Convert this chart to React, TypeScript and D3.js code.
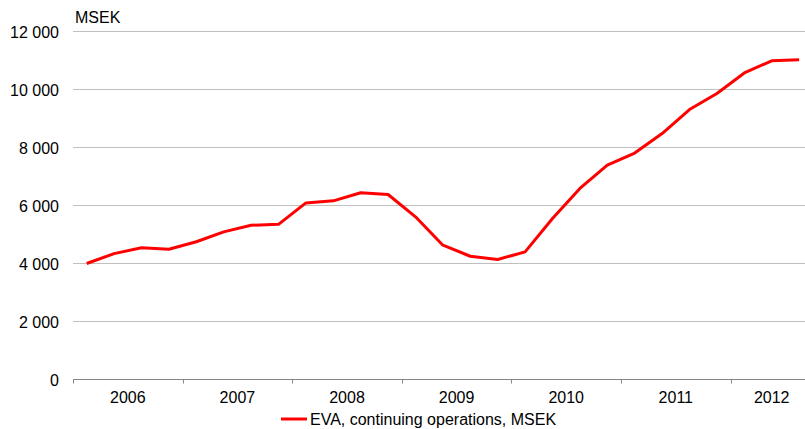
import React, { useEffect, useRef } from "react";
import * as d3 from "d3";

// Quarterly EVA, continuing operations (MSEK)
const years = ["2006", "2007", "2008", "2009", "2010", "2011", "2012"];
const quartersPerYear = [4, 4, 4, 4, 4, 4, 3];
const evaValues = [
  4000, 4340, 4540, 4490,
  4750, 5090, 5320, 5350,
  6090, 6160, 6440, 6380,
  5610, 4630, 4250, 4140,
  4400, 5550, 6590, 7390,
  7810, 8480, 9310, 9860,
  10570, 10990, 11030,
];
const yTicks = [0, 2000, 4000, 6000, 8000, 10000, 12000];
const seriesLabel = "EVA, continuing operations, MSEK";
const unitLabel = "MSEK";

const App = () => {
  const svgRef = useRef<SVGSVGElement>(null);

  useEffect(() => {
    const width = 805;
    const height = 429;
    const font = "'Liberation Sans', Arial, sans-serif";
    const fontSize = "16px";

    const svg = d3.select(svgRef.current);
    svg.selectAll("*").remove();
    svg.attr("width", width).attr("height", height);

    // quarter categories, e.g. "2006 Q1"
    const quarters: string[] = [];
    years.forEach((y, i) => {
      for (let q = 1; q <= quartersPerYear[i]; q++) quarters.push(`${y} Q${q}`);
    });

    const left = 73;
    const step = 27.4;
    const xScale = d3
      .scaleBand()
      .domain(quarters)
      .range([left, left + step * quarters.length])
      .padding(0);

    const yScale = d3.scaleLinear().domain([0, 12000]).range([379.5, 31.5]);

    // Grid lines
    svg
      .append("g")
      .selectAll("line")
      .data(yTicks.filter((d) => d > 0))
      .enter()
      .append("line")
      .attr("x1", left)
      .attr("x2", width)
      .attr("y1", (d) => yScale(d))
      .attr("y2", (d) => yScale(d))
      .style("stroke", "#bfbfbf")
      .style("stroke-width", 1);

    // Y tick labels
    const fmt = (d: number) => d3.format(",")(d).replace(/,/g, " ");
    svg
      .append("g")
      .selectAll("text")
      .data(yTicks)
      .enter()
      .append("text")
      .attr("x", 59)
      .attr("y", (d) => yScale(d) + 6)
      .attr("text-anchor", "end")
      .style("font-family", font)
      .style("font-size", fontSize)
      .style("fill", "#000")
      .text((d) => fmt(d));

    // X axis line
    svg
      .append("line")
      .attr("x1", left)
      .attr("x2", width)
      .attr("y1", yScale(0))
      .attr("y2", yScale(0))
      .style("stroke", "#868686")
      .style("stroke-width", 1);

    // Year boundary ticks and labels
    let idx = 0;
    years.forEach((y, i) => {
      const first = quarters[idx];
      const last = quarters[idx + quartersPerYear[i] - 1];
      const x0 = xScale(first)!;
      const x1 = xScale(last)! + xScale.bandwidth();
      svg
        .append("line")
        .attr("x1", Math.round(x0) + 0.5)
        .attr("x2", Math.round(x0) + 0.5)
        .attr("y1", yScale(0))
        .attr("y2", yScale(0) + 4)
        .style("stroke", "#868686");
      svg
        .append("text")
        .attr("x", (x0 + x1) / 2)
        .attr("y", 403)
        .attr("text-anchor", "middle")
        .style("font-family", font)
        .style("font-size", fontSize)
        .style("fill", "#000")
        .text(y);
      idx += quartersPerYear[i];
    });

    // Series line
    const line = d3
      .line<number>()
      .x((d, i) => xScale(quarters[i])! + xScale.bandwidth() / 2)
      .y((d) => yScale(d));

    svg
      .append("path")
      .datum(evaValues)
      .attr("d", line)
      .attr("fill", "none")
      .attr("stroke", "#ff0000")
      .attr("stroke-width", 3)
      .attr("stroke-linejoin", "round");

    // Unit label
    svg
      .append("text")
      .attr("x", 75)
      .attr("y", 23)
      .style("font-family", font)
      .style("font-size", fontSize)
      .style("fill", "#000")
      .text(unitLabel);

    // Legend
    const legend = svg.append("g").attr("transform", "translate(281,419)");
    legend
      .append("line")
      .attr("x1", 0)
      .attr("x2", 26)
      .attr("y1", 0)
      .attr("y2", 0)
      .style("stroke", "#ff0000")
      .style("stroke-width", 3);
    legend
      .append("text")
      .attr("x", 29)
      .attr("y", 5.5)
      .style("font-family", font)
      .style("font-size", fontSize)
      .style("fill", "#000")
      .text(seriesLabel);
  }, []);

  return (
    <div style={{ position: "absolute", left: 0, top: 0, background: "#fff" }}>
      <svg ref={svgRef} style={{ display: "block" }} />
    </div>
  );
};

export default App;
